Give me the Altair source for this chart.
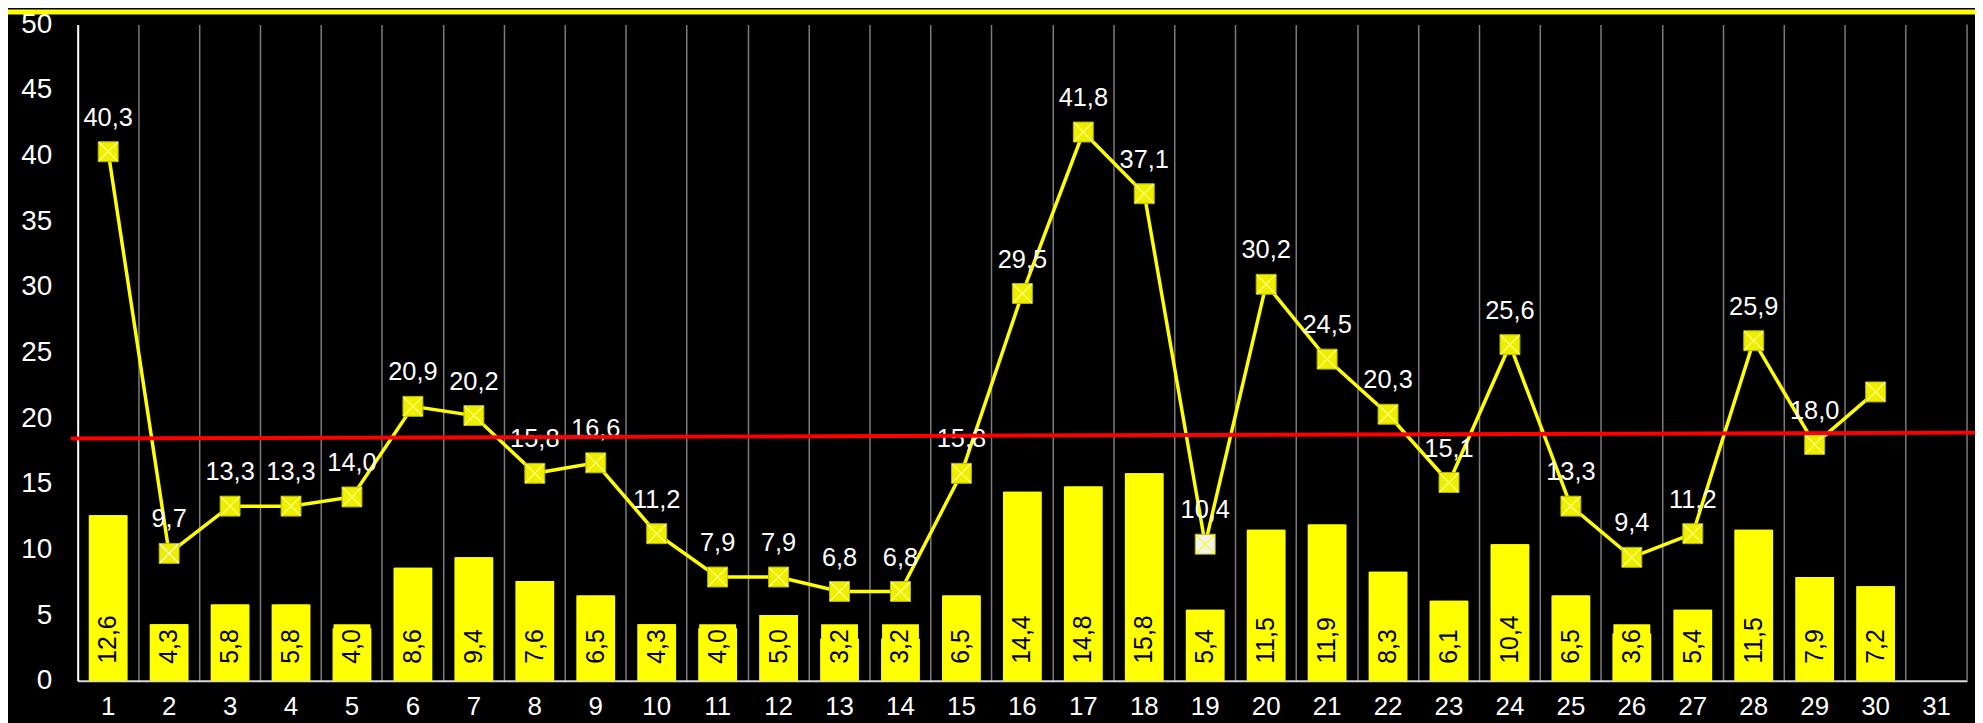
import altair as alt
import pandas as pd

# ---------------- data ----------------
days = [str(i) for i in range(1, 32)]
bar_days = [str(i) for i in range(1, 31)]
bar_values = [12.6, 4.3, 5.8, 5.8, 4.0, 8.6, 9.4, 7.6, 6.5, 4.3,
              4.0, 5.0, 3.2, 3.2, 6.5, 14.4, 14.8, 15.8, 5.4, 11.5,
              11.9, 8.3, 6.1, 10.4, 6.5, 3.6, 5.4, 11.5, 7.9, 7.2]
line_values = [40.3, 9.7, 13.3, 13.3, 14.0, 20.9, 20.2, 15.8, 16.6, 11.2,
               7.9, 7.9, 6.8, 6.8, 15.8, 29.5, 41.8, 37.1, 10.4, 30.2,
               24.5, 20.3, 15.1, 25.6, 13.3, 9.4, 11.2, 25.9, 18.0, 22.0]
line_labeled = [True] * 29 + [False]
white_cross_days = ["2"]
white_fill_days = ["19"]
trend_start, trend_end = 18.45, 18.9

def fmt(v):
    return f"{v:.1f}".replace(".", ",")

bars = pd.DataFrame({"day": bar_days, "value": bar_values,
                     "label": [fmt(v) for v in bar_values]})
line = pd.DataFrame({"day": bar_days, "value": line_values,
                     "label": [fmt(v) if s else "" for v, s in zip(line_values, line_labeled)]})

# ---------------- styling ----------------
W, H = 1897, 659
YEL = "#FFFF00"
FONT = "Liberation Sans"
GRID = "#7a7a7a"

xscale = alt.Scale(domain=days, paddingInner=0, paddingOuter=0)
yscale = alt.Scale(domain=[0, 50])

x_axis = alt.Axis(title=None, grid=True, gridColor=GRID, gridWidth=1.5, bandPosition=0,
                  ticks=False, domainColor="#d9d9d9", domainWidth=2,
                  labelColor="white", labelFont=FONT, labelFontSize=26,
                  labelPadding=13, labelAngle=0)
y_axis = alt.Axis(title=None, grid=False, ticks=False, values=list(range(0, 51, 5)),
                  domainColor="white", domainWidth=2,
                  labelColor="white", labelFont=FONT, labelFontSize=28, labelPadding=26)

X = alt.X("day:N", scale=xscale, axis=x_axis, sort=days)
Y = alt.Y("value:Q", scale=yscale, axis=y_axis)

is_white_fill = alt.FieldOneOfPredicate(field="day", oneOf=white_fill_days)
is_white_cross = alt.FieldOneOfPredicate(field="day", oneOf=white_cross_days)

base_bars = alt.Chart(bars)
bar_layer = base_bars.mark_bar(color=YEL, size=39).encode(x=X, y=Y)
box_layer = base_bars.transform_calculate(box="max(datum.value, 4.3)").mark_bar(
    color=YEL, size=37).encode(x=X, y=alt.Y("box:Q", scale=yscale, axis=y_axis))
bar_text = base_bars.mark_text(angle=270, align="left", baseline="middle", dx=17,
                               font=FONT, fontSize=25, color="black").encode(
    x=X, y=alt.datum(0), text="label:N")

# right edge grid line
edge = alt.Chart(pd.DataFrame({"day": ["31"]})).mark_rule(color=GRID, strokeWidth=1.5).encode(
    x=alt.X("day:N", scale=xscale, axis=x_axis, sort=days, bandPosition=1),
    y=alt.value(0), y2=alt.value(H))

base_line = alt.Chart(line)
line_layer = base_line.mark_line(color=YEL, strokeWidth=3.5).encode(x=X, y=Y)
markers = base_line.mark_point(shape="square", size=400, filled=True, opacity=1,
                               stroke="#b8b800", strokeWidth=1).encode(
    x=X, y=Y,
    fill=alt.when(is_white_fill).then(alt.value("#f2f2f2")).otherwise(alt.value("#eeee00")))
crosses = base_line.mark_point(shape="M-1,-1L1,1M1,-1L-1,1", size=360, filled=False,
                               opacity=1, strokeWidth=1.2).encode(
    x=X, y=Y,
    stroke=alt.when(is_white_fill).then(alt.value(YEL))
              .when(is_white_cross).then(alt.value("white"))
              .otherwise(alt.value("#ffff80")))
line_text = base_line.mark_text(baseline="alphabetic", dy=-26, font=FONT, fontSize=25.5,
                                color="white").encode(x=X, y=Y, text="label:N")

trend = alt.Chart(pd.DataFrame({"a": [trend_start], "b": [trend_end]})).mark_rule(
    color="#FF0000", strokeWidth=4).encode(
    x=alt.value(-7), x2=alt.value(W + 8),
    y=alt.Y("a:Q", scale=yscale, axis=y_axis), y2="b:Q")

topband = alt.Chart(pd.DataFrame({"a": [0]})).mark_rule(color=YEL, strokeWidth=5).encode(
    x=alt.value(-70), x2=alt.value(W + 8), y=alt.value(-12.5))

chart = alt.layer(
    bar_layer, box_layer, bar_text, edge, line_layer, markers, crosses, line_text, trend, topband
).properties(
    width=W, height=H,
    autosize=alt.AutoSizeParams(type="none"),
    padding={"left": 70, "top": 15, "right": 8, "bottom": 41},
    background="#000000",
).configure_view(stroke=None)

chart.save("out.html", embed_options={"renderer": "svg", "actions": False})
